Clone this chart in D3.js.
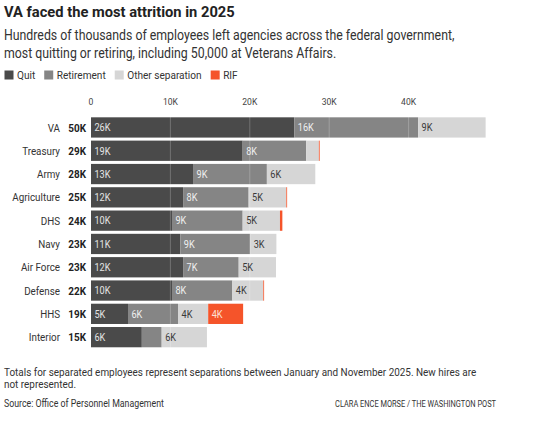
<!DOCTYPE html>
<html>

<head>
    <title>VA faced the most attrition in 2025</title>
    <style>
        body {
            margin: 0;
            background: #fff;
        }
        svg text {
            font-family: Roboto, "Noto Sans", sans-serif;
        }
    </style>
    <script src="https://d3js.org/d3.v7.min.js"></script>
</head>

<body>
    <svg width="540" height="425"></svg>

    <script>

        // separations by agency, thousands of employees
        var agencies = ["VA", "Treasury", "Army", "Agriculture", "DHS", "Navy", "Air Force", "Defense", "HHS", "Interior"];
        var quit = [25.6, 19.1, 12.85, 11.6, 10.2, 11.25, 11.6, 10.2, 4.66, 6.4];
        var retirement = [15.6, 8.0, 9.3, 8.25, 8.9, 8.8, 7.0, 7.6, 6.3, 2.5];
        var other = [8.5, 1.6, 6.1, 4.75, 4.7, 3.3, 4.7, 3.9, 3.8, 5.7];
        var rif = [0, 0.1, 0, 0.1, 0.3, 0, 0, 0.1, 4.4, 0];

        var seriesNames = ["Quit", "Retirement", "Other separation", "RIF"];
        var seriesColors = ["#4a4a4a", "#858585", "#d6d6d6", "#f5542a"];
        var labelColors = ["#e4e4e4", "#f0f0f0", "#3a3a3a", "#fbe0d6"];
        var ticks = [0, 10, 20, 30, 40];

        var rows = agencies.map(function (a, i) {
            return { agency: a, quit: quit[i], retirement: retirement[i], other: other[i], rif: rif[i] };
        });
        var keys = ["quit", "retirement", "other", "rif"];

        var svg = d3.select("svg");

        // the original face is narrower than Roboto, so squeeze text a bit
        var SX = 0.87;

        var probe = svg.append("text").attr("x", -999).attr("y", -999).style("font-size", "100px");
        // font size that makes a string span a given (on-screen) width once squeezed
        function fitSize(str, weight, width, sx) {
            probe.style("font-weight", weight).text(str);
            return 100 * (width / sx) / probe.node().getComputedTextLength();
        }
        function condense(sel, sx) {
            sel.each(function () {
                var t = d3.select(this);
                t.attr("transform", "scale(" + sx + ",1)");
                if (t.attr("x") != null) t.attr("x", +t.attr("x") / sx);
                t.selectAll("tspan").each(function () {
                    var s = d3.select(this);
                    if (s.attr("x") != null) s.attr("x", +s.attr("x") / sx);
                });
            });
        }

        var x = d3.scaleLinear().domain([0, 50]).range([91, 488]);
        var y = d3.scaleBand().domain(agencies).range([115.8, 348.8])
            .paddingInner(0.13).paddingOuter(0.065);
        var color = d3.scaleOrdinal().domain(keys).range(seriesColors);

        var subSize = fitSize("Hundreds of thousands of employees left agencies across the federal government,", 400, 451, SX);
        var catSize = fitSize("Agriculture", 400, 47.7, SX);
        var totSize = fitSize("50K", 700, 17.7, SX);
        var legSize = fitSize("Retirement", 400, 49, SX);
        var axSize = fitSize("10K", 400, 15, SX);
        var segSize = fitSize("26K", 400, 16, SX);
        var noteSize = fitSize("Totals for separated employees represent separations between January and November 2025. New hires are", 400, 473, SX);

        // title + subtitle
        var title = svg.append("text")
            .attr("x", 4).attr("y", 17)
            .style("font-size", fitSize("VA faced the most attrition in 2025", 700, 231, 0.95) + "px")
            .style("font-weight", "700")
            .attr("fill", "#222")
            .text("VA faced the most attrition in 2025");
        condense(title, 0.95);

        var sub = svg.append("text")
            .attr("class", "cond")
            .style("font-size", subSize + "px")
            .attr("fill", "#333");
        sub.append("tspan").attr("x", 4).attr("y", 40)
            .text("Hundreds of thousands of employees left agencies across the federal government,");
        sub.append("tspan").attr("x", 4).attr("y", 58)
            .text("most quitting or retiring, including 50,000 at Veterans Affairs.");

        // legend
        var lx = 4.5;
        seriesNames.forEach(function (name, i) {
            svg.append("rect")
                .attr("x", lx).attr("y", 70.5)
                .attr("width", 9).attr("height", 9)
                .attr("fill", seriesColors[i]);
            var t = svg.append("text")
                .attr("class", "cond")
                .attr("x", lx + 12.5).attr("y", 79.5)
                .style("font-size", legSize + "px")
                .attr("fill", "#333")
                .text(name);
            lx += 12.5 + t.node().getComputedTextLength() * SX + 9;
        });

        // axis labels on top
        svg.append("g").selectAll("text")
            .data(ticks)
            .join("text")
            .attr("class", "cond")
            .attr("x", function (d) { return x(d); })
            .attr("y", 105.5)
            .attr("text-anchor", "middle")
            .style("font-size", axSize + "px")
            .attr("fill", "#444")
            .text(function (d) { return d === 0 ? "0" : d + "K"; });

        // stacked bars
        var stack = d3.stack().keys(keys)(rows);

        var groups = svg.append("g").selectAll("g")
            .data(stack)
            .join("g")
            .attr("fill", function (d) { return color(d.key); });

        groups.selectAll("rect")
            .data(function (d) { return d; })
            .join("rect")
            .attr("x", function (d) { return x(d[0]); })
            .attr("y", function (d) { return y(d.data.agency); })
            .attr("width", function (d) { return x(d[1]) - x(d[0]); })
            .attr("height", y.bandwidth());

        // gridlines sit over the bars
        svg.append("g").selectAll("line")
            .data(ticks.slice(1))
            .join("line")
            .attr("x1", function (d) { return x(d); })
            .attr("x2", function (d) { return x(d); })
            .attr("y1", y.range()[0])
            .attr("y2", y.range()[1])
            .attr("stroke", "#fff")
            .attr("stroke-opacity", 0.22)
            .attr("stroke-width", 1);

        // segment labels
        stack.forEach(function (layer, k) {
            svg.append("g").selectAll("text")
                .data(layer.filter(function (d) { return d[1] - d[0] >= 3; }))
                .join("text")
                .attr("class", "cond")
                .attr("x", function (d) { return x(d[0]) + 3.5; })
                .attr("y", function (d) { return y(d.data.agency) + y.bandwidth() / 2; })
                .attr("dy", "0.36em")
                .style("font-size", segSize + "px")
                .attr("fill", labelColors[k])
                .text(function (d) { return Math.round(d[1] - d[0]) + "K"; });
        });

        // category names + totals
        svg.append("g").selectAll("text")
            .data(rows)
            .join("text")
            .attr("class", "cond")
            .attr("x", 60)
            .attr("y", function (d) { return y(d.agency) + y.bandwidth() / 2; })
            .attr("dy", "0.36em")
            .attr("text-anchor", "end")
            .style("font-size", catSize + "px")
            .attr("fill", "#333")
            .text(function (d) { return d.agency; });

        svg.append("g").selectAll("text")
            .data(rows)
            .join("text")
            .attr("class", "cond")
            .attr("x", 68.3)
            .attr("y", function (d) { return y(d.agency) + y.bandwidth() / 2; })
            .attr("dy", "0.36em")
            .style("font-size", totSize + "px")
            .style("font-weight", "700")
            .attr("fill", "#222")
            .text(function (d) {
                return Math.round(d.quit + d.retirement + d.other + d.rif) + "K";
            });

        // notes
        var note = svg.append("text")
            .attr("class", "cond")
            .style("font-size", noteSize + "px")
            .attr("fill", "#333");
        note.append("tspan").attr("x", 4).attr("y", 376)
            .text("Totals for separated employees represent separations between January and November 2025. New hires are");
        note.append("tspan").attr("x", 4).attr("y", 388.5)
            .text("not represented.");

        svg.append("text")
            .attr("class", "cond")
            .attr("x", 4).attr("y", 407)
            .style("font-size", fitSize("Source: Office of Personnel Management", 400, 160, SX) + "px")
            .attr("fill", "#333")
            .text("Source: Office of Personnel Management");

        svg.append("text")
            .attr("class", "cond")
            .attr("x", 496).attr("y", 407)
            .attr("text-anchor", "end")
            .style("font-size", fitSize("CLARA ENCE MORSE / THE WASHINGTON POST", 400, 161, SX) + "px")
            .attr("fill", "#333")
            .text("CLARA ENCE MORSE / THE WASHINGTON POST");

        probe.remove();
        condense(svg.selectAll("text.cond"), SX);

    </script>

</body>

</html>
